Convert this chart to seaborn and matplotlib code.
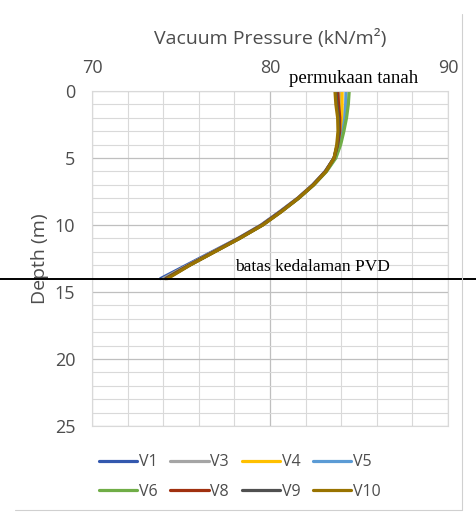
import numpy as np
import pandas as pd
import matplotlib
matplotlib.use("Agg")
import matplotlib.pyplot as plt
from matplotlib.ticker import MultipleLocator
from matplotlib.lines import Line2D
import seaborn as sns

# depth below ground (m)
depth = list(range(0, 15))

# vacuum pressure per monitoring point (kN/m2)
v1 = [83.75, 83.80, 83.90, 83.90, 83.80, 83.60, 83.10, 82.40, 81.55, 80.55, 79.50, 78.20, 76.75, 75.30, 73.85]
v3 = [83.90, 83.95, 84.00, 84.00, 83.85, 83.62, 83.12, 82.42, 81.57, 80.60, 79.55, 78.25, 76.80, 75.40, 74.00]
v4 = [84.05, 84.05, 84.05, 84.00, 83.88, 83.63, 83.13, 82.43, 81.58, 80.60, 79.55, 78.25, 76.85, 75.45, 74.10]
v5 = [84.27, 84.25, 84.20, 84.10, 83.93, 83.66, 83.15, 82.45, 81.60, 80.62, 79.57, 78.27, 76.85, 75.45, 74.10]
v6 = [84.45, 84.40, 84.30, 84.15, 83.97, 83.70, 83.18, 82.47, 81.62, 80.63, 79.58, 78.28, 76.87, 75.47, 74.15]
v8 = [83.80, 83.85, 83.92, 83.92, 83.80, 83.60, 83.12, 82.43, 81.58, 80.60, 79.55, 78.25, 76.85, 75.45, 74.15]
v9 = [83.70, 83.75, 83.85, 83.86, 83.78, 83.60, 83.13, 82.44, 81.59, 80.62, 79.57, 78.27, 76.87, 75.48, 74.20]
v10 = [83.65, 83.70, 83.80, 83.82, 83.75, 83.60, 83.15, 82.45, 81.60, 80.65, 79.60, 78.30, 76.90, 75.50, 74.25]

names = ["V1", "V3", "V4", "V5", "V6", "V8", "V9", "V10"]
series = [v1, v3, v4, v5, v6, v8, v9, v10]
colors = ["#3358AE", "#A5A5A5", "#FFC000", "#5B9BD5", "#70AD47", "#A0300F", "#505050", "#997300"]

pvd_depth = 14

rows = []
for n, vals in zip(names, series):
    for d, v in zip(depth, vals):
        rows.append({"Titik": n, "Depth": d, "Pressure": v})
df = pd.DataFrame(rows)

sns.set_style("white")
plt.rcParams["font.family"] = ["Open Sans", "DejaVu Sans"]

fig = plt.figure(figsize=(4.76, 5.15), dpi=100)
ax = fig.add_axes([92 / 476, 1 - 426 / 515, 356 / 476, 335 / 515])

sns.lineplot(data=df, x="Pressure", y="Depth", hue="Titik", hue_order=names,
             palette=colors, sort=False, estimator=None, linewidth=2.3,
             legend=False, ax=ax)

ax.set_xlim(70, 90)
ax.set_ylim(25, 0)
ax.xaxis.set_major_locator(MultipleLocator(10))
ax.xaxis.set_minor_locator(MultipleLocator(2))
ax.yaxis.set_major_locator(MultipleLocator(5))
ax.yaxis.set_minor_locator(MultipleLocator(1))
ax.grid(which="major", color="#BFBFBF", linewidth=0.9)
ax.grid(which="minor", color="#D9D9D9", linewidth=0.8)
ax.set_axisbelow(True)
ax.xaxis.tick_top()
ax.xaxis.set_label_position("top")
ax.tick_params(which="both", length=0, labelsize=13, labelcolor="#4D4D4D")
ax.tick_params(axis="x", pad=10)
ax.tick_params(axis="y", pad=12)
for s in ax.spines.values():
    s.set_color("#D9D9D9")
    s.set_linewidth(0.8)

ax.set_xlabel("Vacuum Pressure (kN/m²)", fontsize=14, color="#4D4D4D", labelpad=11)
ax.set_ylabel("Depth (m)", fontsize=14, color="#4D4D4D", labelpad=4)

# PVD depth limit line over the whole chart width
ax.axhline(pvd_depth, xmin=-92 / 356, xmax=384 / 356, color="black",
           linewidth=1.4, clip_on=False, zorder=5)
ax.text(82.4, pvd_depth - 0.3, "batas kedalaman PVD", family="Liberation Serif",
        fontsize=12.5, ha="center", va="bottom", color="black")
ax.text(84.7, -0.3, "permukaan tanah", family="Liberation Serif",
        fontsize=13.5, ha="center", va="bottom", color="black", clip_on=False)

# legend in two rows, row-wise order
handles = [Line2D([], [], color=c, linewidth=2.3) for c in colors]
order = [0, 4, 1, 5, 2, 6, 3, 7]
fig.legend([handles[i] for i in order], [names[i] for i in order], ncol=4,
           loc="center", bbox_to_anchor=(240 / 476, 1 - 477 / 515), frameon=False,
           fontsize=11.5, handlelength=2.4, handletextpad=0.1, columnspacing=0.8,
           labelspacing=0.85, labelcolor="#4D4D4D")

# chart area border (right and bottom edges visible)
fig.add_artist(Line2D([462 / 476, 462 / 476], [1 - 510 / 515, 1 - 14 / 515],
                      color="#D0D0D0", linewidth=0.8))
fig.add_artist(Line2D([15 / 476, 462 / 476], [1 - 510 / 515, 1 - 510 / 515],
                      color="#D0D0D0", linewidth=0.8))

fig.savefig("out.png", dpi=100)
